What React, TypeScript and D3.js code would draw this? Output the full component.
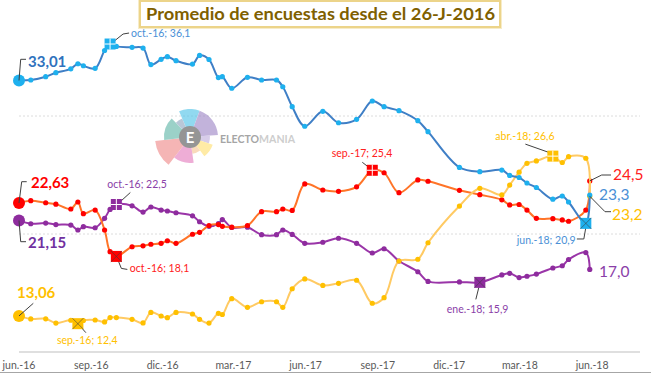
import * as d3 from 'd3';

// fechas de cada promedio (comunes a las cuatro series)
const dates = [
  '2016-06-26', '2016-07-11', '2016-07-30', '2016-08-12', '2016-08-31', '2016-09-09', '2016-09-16',
  '2016-10-01', '2016-10-13', '2016-10-20', '2016-10-28', '2016-11-17', '2016-12-01', '2016-12-11',
  '2016-12-24', '2017-01-01', '2017-01-12', '2017-02-02', '2017-02-11', '2017-02-23', '2017-03-07',
  '2017-03-12', '2017-03-24', '2017-04-13', '2017-05-01', '2017-05-20', '2017-05-28', '2017-06-09',
  '2017-06-25', '2017-07-18', '2017-08-07', '2017-08-30', '2017-09-19', '2017-10-04', '2017-10-23',
  '2017-11-16', '2017-11-29', '2018-01-08', '2018-02-03', '2018-03-03', '2018-03-13', '2018-03-25',
  '2018-04-04', '2018-04-16', '2018-05-07', '2018-05-19', '2018-05-27', '2018-06-18', '2018-06-23',
];

const ppValues = [
  33.01, 33.05, 33.33, 33.67, 34.0, 34.43, 34.26, 34.04, 35.55, 36.1, 35.9, 35.82, 35.76, 34.36,
  34.8, 35.03, 34.69, 34.4, 35.13, 34.79, 33.26, 33.33, 32.35, 33.28, 33.05, 33.05, 32.48, 30.79,
  29.13, 30.4, 29.43, 29.72, 31.27, 30.79, 30.45, 29.6, 28.67, 25.64, 25.28, 25.42, 24.96, 24.79,
  24.32, 23.94, 22.95, 23.22, 22.71, 20.9, 23.3,
];

const psoeValues = [
  22.63, 22.82, 22.65, 22.53, 22.12, 22.71, 21.72, 22.03, 20.34, 18.5, 18.1, 18.92, 19.0, 19.13,
  19.21, 19.43, 19.21, 19.98, 20.14, 20.72, 20.8, 20.65, 20.58, 20.72, 21.89, 21.89, 22.12, 22.0,
  24.24, 23.73, 23.62, 24.0, 25.4, 25.19, 23.5, 24.58, 24.47, 23.7, 23.33, 22.9, 22.46, 22.5,
  22.03, 21.33, 21.3, 21.19, 21.08, 22.03, 24.5,
];

const upValues = [
  21.15, 20.87, 20.93, 20.8, 20.76, 20.34, 20.62, 20.53, 21.33, 22.08, 22.5, 22.39, 21.86, 22.29,
  22.03, 21.95, 21.8, 21.54, 21.04, 20.65, 20.88, 21.22, 20.55, 20.57, 19.94, 19.94, 20.34, 19.96,
  19.21, 19.3, 19.64, 19.21, 18.39, 18.75, 17.71, 16.8, 15.98, 15.94, 15.9, 16.53, 16.67, 16.31,
  16.42, 16.6, 17.12, 17.31, 17.84, 18.43, 17.0,
];

const csValues = [
  13.06, 12.8, 12.81, 12.45, 12.69, 12.4, 12.67, 12.71, 12.55, 12.92, 12.92, 12.77, 12.46, 13.35,
  13.05, 12.91, 13.35, 13.22, 12.77, 12.45, 13.28, 13.18, 14.52, 13.79, 14.26, 14.26, 13.79, 15.36,
  16.19, 15.64, 15.82, 16.08, 14.13, 14.6, 17.71, 17.86, 19.26, 22.37, 23.87, 23.31, 24.15, 25.24,
  25.99, 26.19, 26.6, 26.06, 26.55, 26.42, 23.2,
];

const tickLabels = ['jun.-16', 'sep.-16', 'dic.-16', 'mar.-17', 'jun.-17', 'sep.-17', 'dic.-17', 'mar.-18', 'jun.-18'];

const series = [
  { key: 'up', values: upValues, line: '#9a35a8', dot: '#8e2c9e', label: '#8a3ea8' },
  { key: 'psoe', values: psoeValues, line: '#ff7428', dot: '#ff0000', label: '#ff2020' },
  { key: 'cs', values: csValues, line: '#ffca63', dot: '#ffc000', label: '#ffc000' },
  { key: 'pp', values: ppValues, line: '#3f7fc6', dot: '#1eb0ee', label: '#4a90d6' },
];

// maximos y minimos destacados
const notes = [
  { key: 'pp', i: 9, kind: 'plus', text: 'oct.-16; 36,1', dx: 21, dy: -7, path: [[3, -2], [13, -10], [19, -11]] },
  { key: 'up', i: 10, kind: 'plus', text: 'oct.-16; 22,5', dx: -9, dy: -16.5, path: [[3, -2], [14, -12]] },
  { key: 'psoe', i: 10, kind: 'x', text: 'oct.-16; 18,1', dx: 13.5, dy: 15.6, path: [[1, 2], [5, 12], [11, 13]] },
  { key: 'cs', i: 5, kind: 'x', text: 'sep.-16; 12,4', dx: -21, dy: 20, path: [[0, 0], [8, 9]] },
  { key: 'psoe', i: 32, kind: 'plus', text: 'sep.-17; 25,4', dx: -40.5, dy: -13, path: [[-10, -8], [-1, -1]] },
  { key: 'cs', i: 44, kind: 'plus', text: 'abr.-18; 26,6', dx: -57.5, dy: -16, path: [[-27.5, -12], [-2, -3]] },
  { key: 'pp', i: 47, kind: 'x', text: 'jun.-18; 20,9', dx: -69, dy: 20.6, path: [[-9, 15.6], [-2, 15.6], [0, 4]] },
  { key: 'up', i: 38, kind: 'x', text: 'ene.-18; 15,9', dx: -33, dy: 30.6, path: [[-1, 5], [-4, 17]] },
];

const parse = d3.timeParse('%Y-%m-%d');
const font = 'Lato, "Open Sans", sans-serif';

function Square({ cx, cy, color, kind }: any) {
  const s = 5.5;
  return (
    <g>
      <rect x={cx - s} y={cy - s} width={s * 2} height={s * 2} fill={color} />
      {kind === 'plus' ? (
        <g stroke="#fff" strokeWidth={1}>
          <line x1={cx - s} x2={cx + s} y1={cy} y2={cy} />
          <line x1={cx} x2={cx} y1={cy - s} y2={cy + s} />
        </g>
      ) : (
        <g stroke="rgba(60,60,60,0.55)" strokeWidth={1}>
          <line x1={cx - s} x2={cx + s} y1={cy - s} y2={cy + s} />
          <line x1={cx - s} x2={cx + s} y1={cy + s} y2={cy - s} />
        </g>
      )}
    </g>
  );
}

function Logo({ cx, cy }: any) {
  const petals = [
    { a0: -0.4, a1: 0.35, r: 28, c: '#4fc3e8' },
    { a0: 0.35, a1: 1.5, r: 28, c: '#9d86c6' },
    { a0: 1.5, a1: 1.9, r: 20, c: '#bfaedc' },
    { a0: 1.9, a1: 2.5, r: 24, c: '#ffe070' },
    { a0: 2.5, a1: 3.0, r: 17, c: '#f6c593' },
    { a0: 3.0, a1: 3.8, r: 26, c: '#e47cbe' },
    { a0: 3.8, a1: 4.6, r: 35, c: '#f08888' },
    { a0: 4.6, a1: 5.5, r: 26, c: '#5fb6a8' },
    { a0: 5.5, a1: 5.88, r: 20, c: '#8fa6c0' },
  ];
  const arc = d3.arc<any>();
  return (
    <g opacity={0.62}>
      {petals.map((p, k) => (
        <path key={k} transform={`translate(${cx},${cy})`} fill={p.c}
          d={arc({ innerRadius: 6, outerRadius: p.r, startAngle: p.a0, endAngle: p.a1 }) || ''} />
      ))}
      <circle cx={cx} cy={cy} r={11} fill="#555" />
      <text x={cx} y={cy + 5.5} textAnchor="middle" fill="#fff" fontFamily={font} fontWeight={700} fontSize={15}>E</text>
      <text x={cx + 30} y={cy + 6} fontFamily={font} fontWeight={700} fontSize={11} textLength={75} lengthAdjust="spacingAndGlyphs">
        <tspan fill="#6f6f6f">ELECTO</tspan><tspan fill="#b0b0b0">MANIA</tspan>
      </text>
    </g>
  );
}

export default function App() {
  const start = parse('2016-06-26')!;
  const x = d3.scaleTime().domain([start, parse('2018-08-26')!]).range([19, 640]);
  const y = d3.scaleLinear().domain([10, 40]).range([352, -2]);
  const xs = dates.map(d => x(parse(d)!));
  const line = d3.line<number>()
    .x((_, i) => xs[i])
    .y(v => y(v))
    .curve(d3.curveCatmullRom.alpha(0.5));
  const byKey: any = {};
  series.forEach(s => (byKey[s.key] = s));
  const ticks = tickLabels.map((t, i) => ({ t, x: x(d3.timeMonth.offset(start, 3 * i)) }));
  const last = dates.length - 1;
  const grid = [20, 30];

  return (
    <svg width={651} height={374} style={{ position: 'absolute', left: 0, top: 0, background: '#fff' }}>
      <rect width={651} height={374} fill="#fff" />
      {grid.map(g => (
        <line key={g} x1={19} x2={640} y1={y(g)} y2={y(g)} stroke="#dcdcdc" strokeDasharray="2,2" />
      ))}
      <line x1={19} x2={640} y1={y(10)} y2={y(10)} stroke="#bfbfbf" />
      {ticks.map(t => (
        <text key={t.t} x={t.x} y={369} textAnchor="middle" fontFamily={font} fontSize={10.5} fill="#595959">{t.t}</text>
      ))}
      <line x1={0} x2={651} y1={372.5} y2={372.5} stroke="#a6a6a6" />

      <Logo cx={190} cy={137} />

      {series.map(s => (
        <g key={s.key}>
          <path d={line(s.values) || ''} fill="none" stroke={s.line} strokeWidth={2} />
          {s.values.map((v, i) => (
            <circle key={i} cx={xs[i]} cy={y(v)} r={2.6} fill={s.dot} />
          ))}
          <circle cx={xs[0]} cy={y(s.values[0])} r={6} fill={s.dot} />
        </g>
      ))}

      {notes.map((n, k) => {
        const s = byKey[n.key];
        const px = xs[n.i];
        const py = y(s.values[n.i]);
        const pts = n.path.map(([a, b]) => `${px + a},${py + b}`).join(' ');
        return (
          <g key={k}>
            <polyline points={pts} fill="none" stroke="#404040" strokeWidth={1} />
            <Square cx={px} cy={py} color={s.dot} kind={n.kind} />
            <text x={px + n.dx} y={py + n.dy} fontFamily={font} fontSize={10.5} fill={s.label}>{n.text}</text>
          </g>
        );
      })}

      {/* valores iniciales */}
      <g fontFamily={font} fontWeight={700} fontSize={15}>
        <polyline points={`${xs[0]},${y(ppValues[0])} 20.7,59.3 26,59.3`} fill="none" stroke="#404040" />
        <text x={28} y={67} fill="#2f72bd">{ppValues[0].toFixed(2).replace('.', ',')}</text>
        <polyline points={`${xs[0]},${y(psoeValues[0])} 21.7,181.7 26.7,181.7`} fill="none" stroke="#404040" />
        <text x={31} y={188} fill="#ff0000">{psoeValues[0].toFixed(2).replace('.', ',')}</text>
        <polyline points={`${xs[0]},${y(upValues[0])} 20.7,241.7 26,241.7`} fill="none" stroke="#404040" />
        <text x={28} y={248} fill="#7030a0">{upValues[0].toFixed(2).replace('.', ',')}</text>
        <polyline points={`${xs[0]},${y(csValues[0])} 33.3,303.3`} fill="none" stroke="#404040" />
        <text x={17} y={298} fill="#ffc000">{csValues[0].toFixed(2).replace('.', ',')}</text>
      </g>

      {/* valores finales */}
      <g fontFamily={font} fontSize={15.5}>
        <polyline points={`${xs[last]},${y(psoeValues[last])} 601.7,175 611,175`} fill="none" stroke="#404040" />
        <text x={613} y={180} fill="#ff2020">{psoeValues[last].toFixed(1).replace('.', ',')}</text>
        <text x={599} y={200} fill="#4a90d6">{ppValues[last].toFixed(1).replace('.', ',')}</text>
        <polyline points={`${xs[last]},${y(csValues[last])} 605,211.7 611,211.7`} fill="none" stroke="#404040" />
        <text x={612} y={220} fill="#ffc000">{csValues[last].toFixed(1).replace('.', ',')}</text>
        <text x={599} y={277} fill="#8a3ea8">{upValues[last].toFixed(1).replace('.', ',')}</text>
      </g>

      {/* titulo */}
      <rect x={140} y={1} width={360} height={26} fill="#fff" stroke="#ecd48a" strokeWidth={2} />
      <rect x={138.5} y={-0.5} width={363} height={29} fill="none" stroke="#f7ecc8" strokeWidth={1} />
      <text x={146} y={20} fontFamily={font} fontWeight={700} fontSize={17.5} fill="#7f6000"
        textLength={349} lengthAdjust="spacingAndGlyphs">Promedio de encuestas desde el 26-J-2016</text>
    </svg>
  );
}
